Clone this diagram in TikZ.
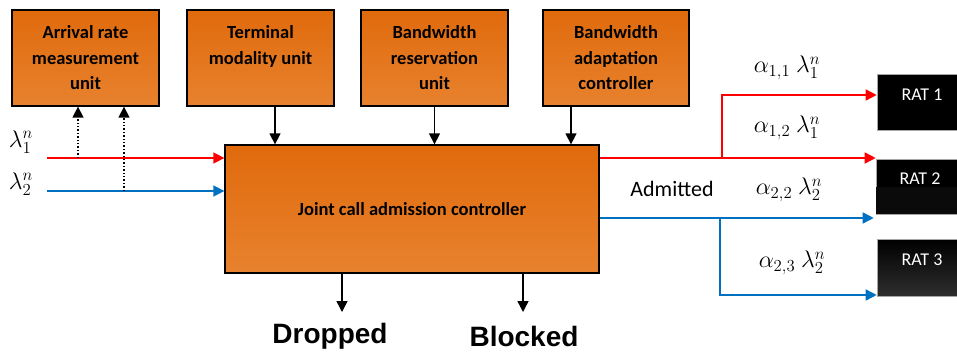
\RequirePackage{fix-cm}
\documentclass[tikz,border=0pt]{standalone}
\usepackage{fontspec}
\newfontfamily\carlito{Carlito}
\newfontfamily\arialfont{Liberation Sans}
\usetikzlibrary{arrows.meta}
\definecolor{orTop}{HTML}{E06A0C}
\definecolor{orBot}{HTML}{E8822E}
\definecolor{redl}{HTML}{FF0000}
\definecolor{bluel}{HTML}{0070C0}
\tikzset{
  unitbox/.style={draw=black, line width=1.3pt, top color=orTop, bottom color=orBot,
    minimum width=147pt, minimum height=96pt, inner sep=0pt, align=center,
    font=\fontsize{18.5}{25.5}\selectfont\carlito\bfseries},
  mainbox/.style={draw=black, line width=1.3pt, top color=orTop, bottom color=orBot,
    minimum width=374pt, minimum height=128pt, inner sep=0pt, align=center,
    font=\fontsize{18.5}{24}\selectfont\carlito\bfseries},
  ratbox/.style={draw=gray!70, line width=0.6pt, minimum width=90pt, minimum height=#1, inner sep=0pt},
  rattext/.style={text=white, font=\fontsize{18}{22}\selectfont\carlito, inner sep=0pt},
  mathlbl/.style={font=\fontsize{24}{28}\selectfont, inner sep=0pt},
  outlbl/.style={font=\fontsize{28}{32}\selectfont\arialfont\bfseries, inner sep=0pt},
  tip/.style={-{Triangle[length=11pt,width=11pt]}},
  blackarr/.style={tip, draw=black, line width=1.4pt},
  dotarr/.style={tip, draw=black, line width=1.4pt, dotted},
  redarr/.style={tip, draw=redl, line width=1.6pt},
  bluearr/.style={tip, draw=bluel, line width=1.6pt},
}
\begin{document}
\begin{tikzpicture}[x=1pt,y=-1pt]
\clip (0,0) rectangle (957,356);
\fill[white] (0,0) rectangle (957,356);
% top units
\node[unitbox] (b1) at (85.5,58) {Arrival rate\\measurement\\unit};
\node[unitbox] (b2) at (260.5,58) {Terminal\\modality unit\\\mbox{}};
\node[unitbox] (b3) at (434.5,58) {Bandwidth\\reservation\\unit};
\node[unitbox, minimum width=146pt] (b4) at (616,58) {Bandwidth\\adaptation\\controller};
% main
\node[mainbox] (main) at (412,209) {Joint call admission controller};
% RAT boxes
\node[ratbox=56pt, fill=black] (r1) at (922,102) {};
\node[ratbox=55pt, fill=black] (r2) at (921,186.5) {};
\fill[black!96!white] ([xshift=0.6pt]r2.west) rectangle ([xshift=-0.3pt,yshift=0.6pt]r2.south east);
\node[ratbox=57pt, top color=black, bottom color=black!82!white] (r3) at (922,267.5) {};
\node[rattext] (r1t) at (922,95) {RAT 1};
\node[rattext] (r2t) at (920,179) {RAT 2};
\node[rattext] (r3t) at (922,260) {RAT 3};
% labels
\node[mathlbl] (l1) at (21,142) {$\lambda_1^n$};
\node[mathlbl] (l2) at (21,184) {$\lambda_2^n$};
\node[mathlbl] (a11) at (787,68) {$\alpha_{1,1}\hspace{6pt}\lambda_1^n$};
\node[mathlbl] (a12) at (787,128) {$\alpha_{1,2}\hspace{6pt}\lambda_1^n$};
\node[mathlbl] (a22) at (789,190) {$\alpha_{2,2}\hspace{6pt}\lambda_2^n$};
\node[mathlbl] (a23) at (792,263) {$\alpha_{2,3}\hspace{6pt}\lambda_2^n$};
\node[font=\fontsize{22}{26}\selectfont\carlito, inner sep=0pt] (adm) at (672,189) {Admitted};
\node[outlbl] (drop) at (330,336) {Dropped};
\node[outlbl] (block) at (524,336) {Blocked};
% coordinates
\coordinate (inR) at (47,158);
\coordinate (inB) at (47,191);
\coordinate (d1) at (78,158);
\coordinate (d2) at (124,191);
\coordinate (x2) at (275,0);
\coordinate (x3) at (434.5,0);
\coordinate (x4) at (571,0);
\coordinate (dE) at (342,312);
\coordinate (bE) at (523,312);
\coordinate (brR) at (722,158);
\coordinate (brRt) at (722,95);
\coordinate (brB) at (720,218);
\coordinate (brBb) at (720,295);
% inputs
\draw[redarr] (inR) -- (main.west |- inR);
\draw[bluearr] (inB) -- (main.west |- inB);
\draw[dotarr] (d1) -- (b1.south -| d1);
\draw[dotarr] (d2) -- (b1.south -| d2);
% top arrows
\draw[blackarr] (b2.south -| x2) -- (main.north -| x2);
\draw[blackarr] (b3.south -| x3) -- (main.north -| x3);
\draw[blackarr] (b4.south -| x4) -- (main.north -| x4);
% bottom arrows
\draw[blackarr] (main.south -| dE) -- (dE);
\draw[blackarr] (main.south -| bE) -- (bE);
% outputs
\draw[redarr] (main.east |- brR) -- (r2.west |- brR);
\draw[redarr] (brR) -- (brRt) -- (r1.west |- brRt);
\draw[bluearr] (main.east |- brB) -- ([xshift=-2pt]r2.west |- brB);
\draw[bluearr] (brB) -- (brBb) -- (r3.west |- brBb);
\end{tikzpicture}
\end{document}
